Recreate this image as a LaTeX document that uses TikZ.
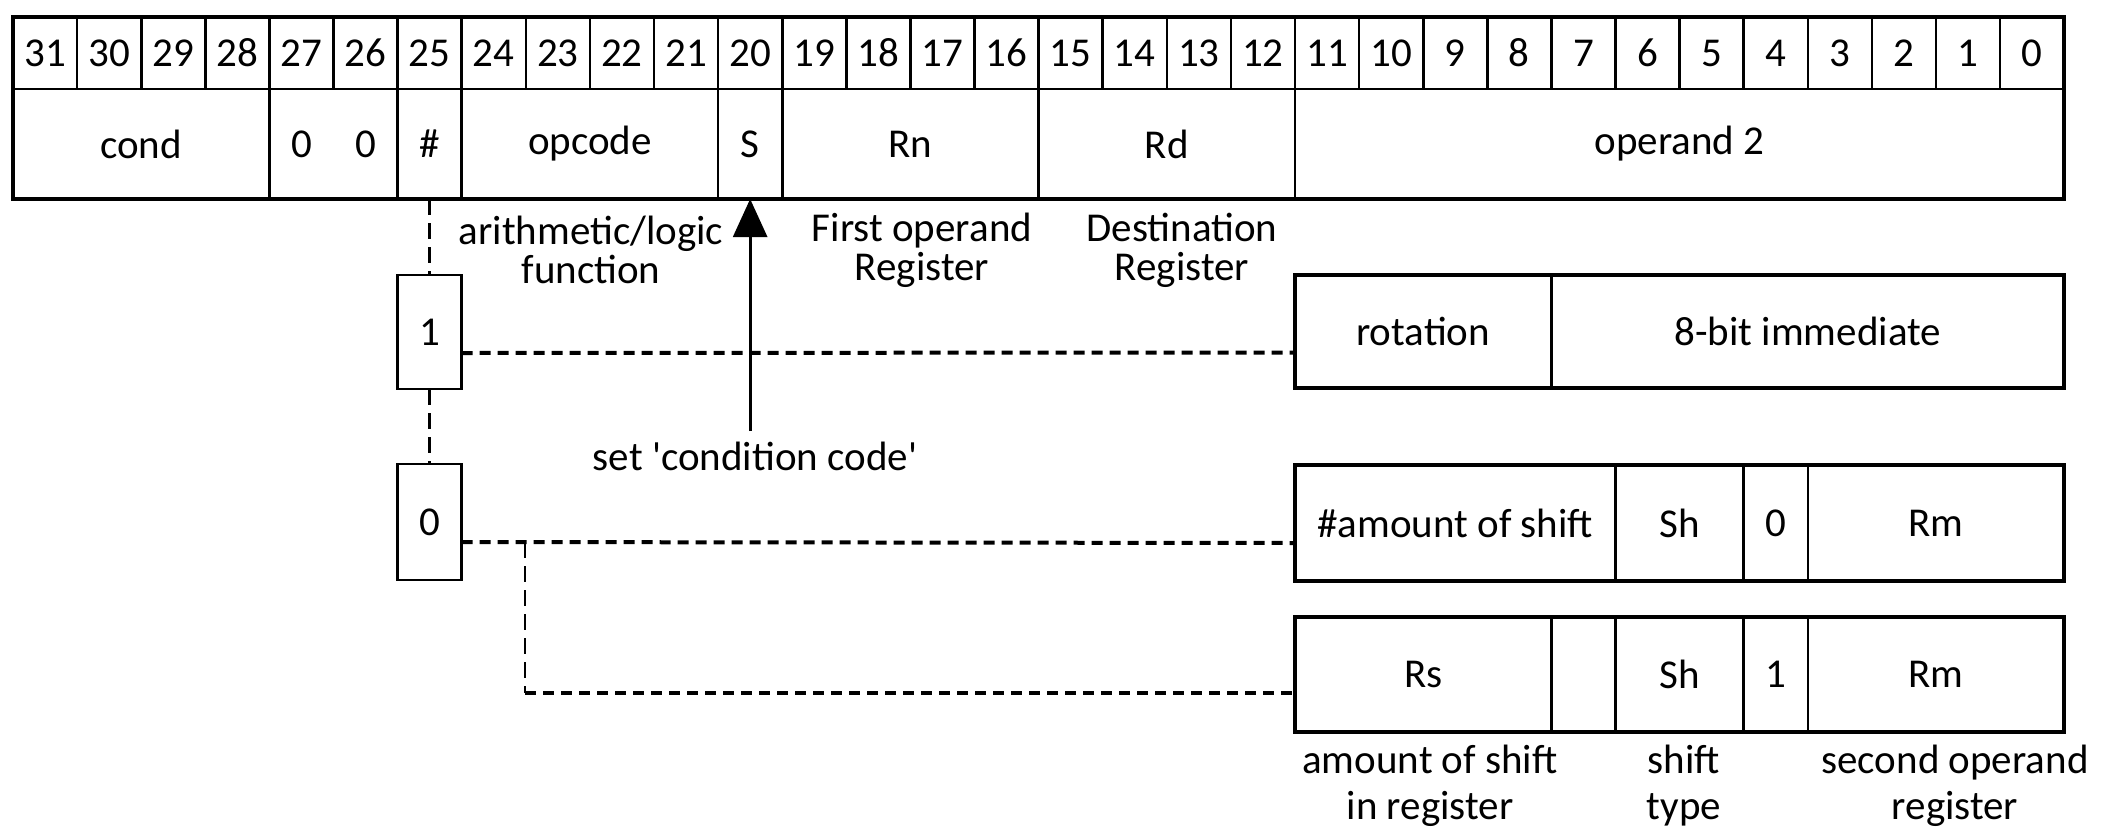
\documentclass[tikz,border=0pt]{standalone}
\usepackage{fontspec}
\setmainfont{Carlito}
\usetikzlibrary{arrows.meta}
\newcommand\bitfield[6]{% name, hi, lo, ytop, ybot, text
  \pgfmathsetmacro\fw{(#2-#3+1)*32.05}%
  \pgfmathsetmacro\fh{(#5-#4)*0.5}%
  \pgfmathsetmacro\fx{13+(31-#2+(#2-#3+1)/2)*64.1}%
  \pgfmathsetmacro\fy{(#4+#5)/2}%
  \node[cell,minimum width=\fw pt,minimum height=\fh pt] (#1) at (\fx,\fy) {#6};}
\begin{document}
\begin{tikzpicture}[x=0.5pt,y=-0.5pt,
  cell/.style={draw,line width=1.3pt,inner sep=0pt,outer sep=0pt,font=\fontsize{20.5}{20}\selectfont},
  outer/.style={draw,line width=2pt},
  vdash/.style={line width=1.2pt,dash pattern=on 8pt off 4pt},
  hdash/.style={line width=2pt,dash pattern=on 5.5pt off 3.5pt},
  lbl/.style={align=center,inner sep=0pt,font=\fontsize{20.5}{19.5}\selectfont},
  blbl/.style={align=center,inner sep=0pt,font=\fontsize{20.5}{23}\selectfont}]
\useasboundingbox (0,0) rectangle (2104,831);
% bit numbers
\foreach \b in {0,...,31}{\bitfield{n\b}{\b}{\b}{17}{89}{\b}}
% field row
\bitfield{cond}{31}{28}{89}{199}{cond}
\bitfield{zz}{27}{26}{89}{199}{0\hspace{21.6pt}0}
\bitfield{hash}{25}{25}{89}{199}{\#}
\bitfield{opc}{24}{21}{89}{199}{opcode}
\bitfield{S}{20}{20}{89}{199}{S}
\bitfield{Rn}{19}{16}{89}{199}{Rn}
\bitfield{Rd}{15}{12}{89}{199}{Rd}
\bitfield{op2}{11}{0}{89}{199}{operand 2}
\draw[outer] (n31.north west) rectangle (op2.south east);
% immediate selector boxes
\bitfield{one}{25}{25}{275}{389}{1}
\bitfield{zero}{25}{25}{464}{580}{0}
% row A
\bitfield{rot}{11}{8}{275}{388}{rotation}
\bitfield{imm}{7}{0}{275}{388}{8-bit immediate}
\draw[outer] (rot.north west) rectangle (imm.south east);
% row B
\bitfield{amt}{11}{7}{465}{581}{\#amount of shift}
\bitfield{shA}{6}{5}{465}{581}{Sh}
\bitfield{zb}{4}{4}{465}{581}{0}
\bitfield{rmA}{3}{0}{465}{581}{Rm}
\draw[outer] (amt.north west) rectangle (rmA.south east);
% row C
\bitfield{rs}{11}{8}{617}{732}{Rs}
\bitfield{blank}{7}{7}{617}{732}{}
\bitfield{shB}{6}{5}{617}{732}{Sh}
\bitfield{ob}{4}{4}{617}{732}{1}
\bitfield{rmB}{3}{0}{617}{732}{Rm}
\draw[outer] (rs.north west) rectangle (rmB.south east);
% dashed connectors
\draw[vdash] (hash.south) -- (one.north);
\draw[vdash] (one.south) -- (zero.north);
\draw[hdash] ([yshift=-10.5pt]one.east) -- ([yshift=-10.5pt]rot.west);
\draw[hdash] ([yshift=-10pt]zero.east) -- ([yshift=-10pt]amt.west);
\coordinate (br) at (525,542);
\draw[vdash] (br) -- (525,693);
\draw[hdash] (525,693) -- ([yshift=-9.25pt]rs.west);
% labels
\node[lbl] (alu) at (591,250) {arithmetic/logic\\function};
\node[lbl] (fop) at (922,250) {First operand\\Register};
\node[lbl] (dst) at (1182,250) {Destination\\Register};
\node[lbl,inner sep=5pt] (cc) at (755,456) {set \textquotesingle condition code\textquotesingle};
\draw[line width=1.4pt,-{Triangle[length=19pt,width=17pt]}] (cc.north -| S.south) -- (S.south);
\node[blbl] (la) at (1430,786) {amount of shift\\in register};
\node[blbl] (lb) at (1684,786) {shift\\type};
\node[blbl] (lc) at (1955,786) {second operand\\register};
\end{tikzpicture}
\end{document}
